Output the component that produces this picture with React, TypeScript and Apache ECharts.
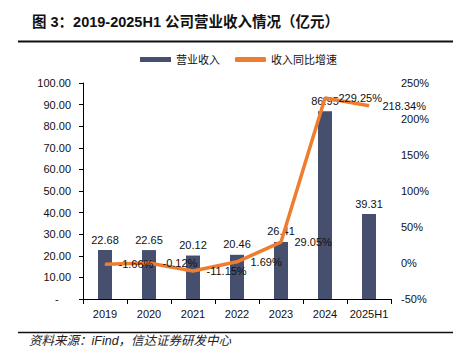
import React, { useEffect, useRef } from "react";
import * as echarts from "echarts";

const categories = ["2019", "2020", "2021", "2022", "2023", "2024", "2025H1"];
const revenue = [22.68, 22.65, 20.12, 20.46, 26.41, 86.95, 39.31];
const growth = [-1.66, -0.12, -11.15, 1.69, 29.05, 229.25, 218.34];
const leftTicks = { min: 0, max: 100, interval: 10 };
const rightTicks = { min: -50, max: 250, interval: 50 };

const FONT = "'Liberation Sans', Arial, 'Noto Sans CJK SC', sans-serif";
const BAR = "#464f6d";
const ORANGE = "#ef7d2f";

export default function App() {
  const ref = useRef<HTMLDivElement>(null);
  useEffect(() => {
    const chart = echarts.init(ref.current!, null, { renderer: "svg" });
    chart.setOption({
      animation: false,
      backgroundColor: "#ffffff",
      textStyle: { fontFamily: FONT, color: "#111" },
      title: {
        text: "图 3：2019-2025H1 公司营业收入情况（亿元）",
        left: 27,
        top: 10,
        textStyle: {
          fontFamily: "'Liberation Sans', 'Noto Sans CJK SC', sans-serif",
          fontSize: 14.5,
          fontWeight: "bold",
          color: "#111",
        },
      },
      graphic: [
        { type: "line", shape: { x1: 18, y1: 41.5, x2: 453, y2: 41.5 }, style: { stroke: "#111", lineWidth: 2 } },
        { type: "line", shape: { x1: 18, y1: 332.5, x2: 453, y2: 332.5 }, style: { stroke: "#111", lineWidth: 1.5 } },
        {
          type: "text",
          x: 29,
          y: 335,
          style: {
            text: "资料来源：iFind，信达证券研发中心",
            font: "italic 12.5px 'Liberation Sans', 'Noto Sans CJK SC', sans-serif",
            fill: "#222",
          },
        },
      ],
      legend: {
        top: 49,
        left: 135,
        itemWidth: 31,
        itemHeight: 5,
        itemGap: 15,
        textStyle: { fontSize: 11, color: "#111", fontFamily: FONT },
        data: [
          { name: "营业收入", icon: "rect", itemStyle: { color: BAR } },
          { name: "收入同比增速", icon: "roundRect", itemStyle: { color: ORANGE } },
        ],
      },
      grid: { left: 83, right: 74, top: 83, bottom: 60 },
      xAxis: {
        type: "category",
        data: categories,
        boundaryGap: true,
        axisLine: { lineStyle: { color: "#000", width: 1 } },
        axisTick: { show: true, length: 5, interval: 0, lineStyle: { color: "#000" } },
        axisLabel: { fontSize: 11, color: "#111", margin: 9, interval: 0 },
      },
      yAxis: [
        {
          type: "value",
          min: leftTicks.min,
          max: leftTicks.max,
          interval: leftTicks.interval,
          splitLine: { show: false },
          axisLine: { show: true, lineStyle: { color: "#000" } },
          axisTick: { show: true, length: 4, lineStyle: { color: "#000" } },
          axisLabel: {
            fontSize: 11,
            color: "#111",
            margin: 12,
            formatter: (v: number) => (v === 0 ? "-    " : v.toFixed(2)),
          },
        },
        {
          type: "value",
          min: rightTicks.min,
          max: rightTicks.max,
          interval: rightTicks.interval,
          splitLine: { show: false },
          axisLine: { show: false },
          axisTick: { show: false },
          axisLabel: { fontSize: 11, color: "#111", margin: 10, formatter: (v: number) => v + "%" },
        },
      ],
      series: [
        {
          name: "营业收入",
          type: "bar",
          data: revenue,
          barWidth: 14,
          itemStyle: { color: BAR },
          label: {
            show: true,
            position: "top",
            distance: 5,
            fontSize: 11,
            color: "#111",
            formatter: (p: any) => p.value.toFixed(2),
          },
        },
        {
          name: "收入同比增速",
          type: "line",
          yAxisIndex: 1,
          data: growth,
          symbol: "circle",
          symbolSize: 1,
          itemStyle: { color: ORANGE },
          lineStyle: { color: ORANGE, width: 3.5 },
          label: {
            show: true,
            position: "right",
            distance: 13,
            fontSize: 11,
            color: "#111",
            formatter: (p: any) => p.value.toFixed(2) + "%",
          },
        },
      ],
    });
    return () => chart.dispose();
  }, []);
  return <div ref={ref} style={{ width: 465, height: 359, position: "absolute", left: 0, top: 0 }} />;
}
